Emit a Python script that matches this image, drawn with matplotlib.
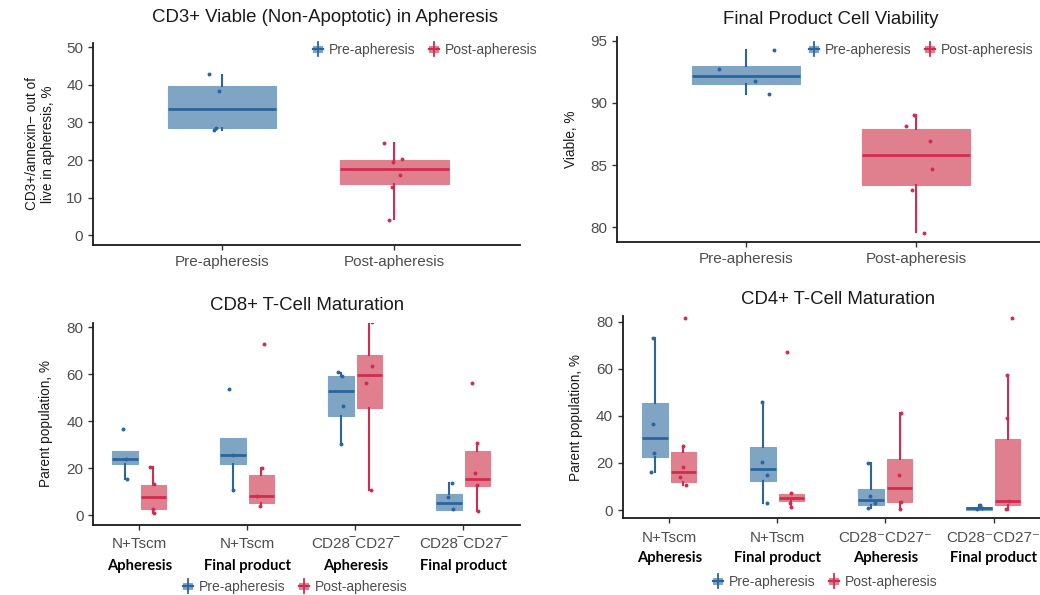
import matplotlib
matplotlib.use('Agg')
import matplotlib.pyplot as plt
from matplotlib.lines import Line2D
from matplotlib.patches import Patch, Rectangle
from matplotlib.legend_handler import HandlerBase

plt.rcParams['font.family'] = ['Liberation Sans', 'DejaVu Sans']

# ---- data ----
legend_labels = ['Pre-apheresis', 'Post-apheresis']

# CD3+ viable in apheresis
cd3_ticks = ['Pre-apheresis', 'Post-apheresis']
cd3_q1 = [28.6, 13.7]
cd3_med = [33.7, 17.7]
cd3_q3 = [39.7, 19.9]
cd3_lo = [28.0, 4.3]
cd3_hi = [42.6, 24.5]
cd3_pts = [[42.8, 38.3, 27.9, 28.6], [24.5, 19.4, 20.2, 16.0, 12.8, 4.0]]
cd3_jit = [[-0.076, -0.017, -0.047, -0.038], [-0.058, -0.006, 0.047, 0.035, -0.012, -0.029]]

# final product viability
via_ticks = ['Pre-apheresis', 'Post-apheresis']
via_q1 = [91.5, 83.4]
via_med = [92.2, 85.8]
via_q3 = [93.0, 87.9]
via_lo = [90.7, 79.6]
via_hi = [94.25, 89.0]
via_pts = [[92.7, 91.75, 90.7, 94.25], [89.0, 88.15, 86.9, 84.7, 83.0, 79.5]]
via_jit = [[-0.16, 0.053, 0.135, 0.165], [-0.012, -0.059, 0.082, 0.094, -0.024, 0.047]]

# CD8+ maturation
cd8_ticks = ['N+Tscm', 'N+Tscm', 'CD28\u203eCD27\u203e', 'CD28\u203eCD27\u203e']
mat_sub = ['Apheresis', 'Final product', 'Apheresis', 'Final product']
cd8_pre_q1 = [21.8, 22.0, 42.4, 2.3]
cd8_pre_med = [24.0, 25.5, 53.0, 5.4]
cd8_pre_q3 = [27.5, 32.9, 59.3, 9.1]
cd8_pre_lo = [15.6, 10.8, 30.2, 2.3]
cd8_pre_hi = [27.5, 32.9, 60.4, 13.9]
cd8_post_q1 = [2.8, 5.4, 45.5, 12.3]
cd8_post_med = [7.9, 8.1, 59.9, 15.3]
cd8_post_q3 = [12.9, 17.0, 68.2, 27.4]
cd8_post_lo = [1.1, 4.0, 11.0, 2.0]
cd8_post_hi = [20.4, 20.0, 82.3, 31.0]
cd8_pre_pts = [[36.9, 24.0, 15.6], [53.6, 25.5, 10.8], [61.0, 59.4, 46.5, 30.2], [13.6, 7.8, 2.6]]
cd8_pre_jit = [[-0.02, 0.01, 0.02], [-0.04, 0.0, 0.0], [-0.025, 0.01, 0.02, 0.0], [0.028, -0.012, 0.037]]
cd8_post_pts = [[20.4, 13.2, 2.8, 1.1], [73.0, 20.0, 8.1, 4.0], [82.3, 63.5, 56.5, 11.0], [56.2, 30.6, 17.9, 12.9, 2.0]]
cd8_post_jit = [[-0.03, 0.01, 0.0, 0.01], [0.025, 0.01, -0.037, -0.015], [0.025, 0.028, -0.028, 0.018], [-0.05, -0.006, -0.025, 0.0, 0.006]]

# CD4+ maturation
cd4_ticks = ['N+Tscm', 'N+Tscm', 'CD28\u207bCD27\u207b', 'CD28\u207bCD27\u207b']
cd4_pre_q1 = [22.5, 12.2, 2.3, 0.0]
cd4_pre_med = [30.6, 17.6, 4.2, 0.7]
cd4_pre_q3 = [45.6, 26.8, 9.1, 1.4]
cd4_pre_lo = [16.0, 3.1, 1.0, 0.0]
cd4_pre_hi = [73.1, 45.9, 20.1, 2.0]
cd4_post_q1 = [12.0, 4.0, 3.3, 2.1]
cd4_post_med = [16.3, 5.1, 9.5, 4.0]
cd4_post_q3 = [24.8, 6.7, 21.5, 30.0]
cd4_post_lo = [10.6, 1.4, 0.3, 0.0]
cd4_post_hi = [27.3, 7.4, 41.1, 57.4]
cd4_pre_pts = [[73.1, 36.5, 24.4, 16.0], [45.9, 20.4, 15.0, 3.1], [20.1, 5.9, 3.1, 1.0], [2.0, 0.3, 0.8]]
cd4_pre_jit = [[-0.022, -0.022, -0.012, -0.037], [-0.006, -0.006, 0.034, 0.034], [-0.025, -0.006, 0.037, -0.031], [0.009, -0.022, 0.025]]
cd4_post_pts = [[81.4, 27.3, 18.1, 14.2, 10.5], [67.1, 7.1, 3.1, 1.4], [41.1, 15.0, 3.4, 0.6], [81.4, 57.4, 39.2, 3.7, 0.3]]
cd4_post_jit = [[0.012, -0.006, -0.003, -0.031, 0.022], [-0.04, 0.0, -0.012, 0.0], [0.015, -0.006, 0.012, 0.006], [0.043, -0.009, -0.003, 0.009, -0.015]]

PRE_FILL, PRE_LINE = '#7fa4c4', '#2b659b'
POST_FILL, POST_LINE = '#e0808f', '#d02c50'
GREY = '#4d4d4d'
TICK_SIZE = 11
TITLE_SIZE = 13.4

W, H = 1040, 595
fig = plt.figure(figsize=(W / 100, H / 100), dpi=100)


def rect(l, t, r, b):
    return [l / W, 1 - b / H, (r - l) / W, (b - t) / H]


def style(ax):
    for s in ['top', 'right']:
        ax.spines[s].set_visible(False)
    for s in ['left', 'bottom']:
        ax.spines[s].set_linewidth(1.3)
        ax.spines[s].set_color('#1a1a1a')
    ax.tick_params(length=3.5, width=1, color='#333333', labelcolor=GREY, labelsize=TICK_SIZE, pad=3.5)


def boxes(ax, pos, q1, med, q3, lo, hi, fill, line, width):
    stats = [dict(q1=a, med=m, q3=b, whislo=w1, whishi=w2) for a, m, b, w1, w2 in zip(q1, med, q3, lo, hi)]
    ax.bxp(stats, positions=pos, widths=width, patch_artist=True, showcaps=False, showfliers=False,
           boxprops=dict(facecolor=fill, edgecolor=fill, linewidth=0.8),
           whiskerprops=dict(color=line, linewidth=1.5),
           medianprops=dict(color=line, linewidth=2))


def dots(ax, pos, pts, jit, line):
    for p, ys, js in zip(pos, pts, jit):
        ax.scatter([p + j for j in js], ys, s=8, color=line, zorder=5, linewidths=0)


class BoxKey(HandlerBase):
    # ggplot-like boxplot key: filled box, median line, whisker through it
    def create_artists(self, legend, orig_handle, xdescent, ydescent, width, height, fontsize, trans):
        fill = orig_handle.get_facecolor()
        line = orig_handle.get_edgecolor()
        x0, y0 = -xdescent, -ydescent
        cx, cy = x0 + width / 2, y0 + height / 2
        box = Rectangle((x0, y0 + height * 0.12), width, height * 0.76, facecolor=fill, edgecolor='none', transform=trans)
        whisker = Line2D([cx, cx], [y0 - height * 0.25, y0 + height * 1.25], color=line, lw=1.3, transform=trans)
        median = Line2D([x0, x0 + width], [cy, cy], color=line, lw=1.6, transform=trans)
        return [box, whisker, median]


def add_legend(ax, x_px, y_px):
    handles = [Patch(facecolor=PRE_FILL, edgecolor=PRE_LINE), Patch(facecolor=POST_FILL, edgecolor=POST_LINE)]
    ax.legend(handles, legend_labels, handler_map={Patch: BoxKey()}, ncol=2,
              frameon=False, loc='center left', bbox_to_anchor=(x_px / W, 1 - y_px / H),
              bbox_transform=fig.transFigure, borderpad=0, borderaxespad=0, handlelength=0.72,
              handleheight=0.65, handletextpad=0.45, columnspacing=0.95, fontsize=10, labelcolor=GREY)


# ---- panel 1: CD3+ ----
ax1 = fig.add_axes(rect(93, 42.7, 520, 245))
style(ax1)
boxes(ax1, [1], cd3_q1[:1], cd3_med[:1], cd3_q3[:1], cd3_lo[:1], cd3_hi[:1], PRE_FILL, PRE_LINE, 0.63)
boxes(ax1, [2], cd3_q1[1:], cd3_med[1:], cd3_q3[1:], cd3_lo[1:], cd3_hi[1:], POST_FILL, POST_LINE, 0.63)
dots(ax1, [1], cd3_pts[:1], cd3_jit[:1], PRE_LINE)
dots(ax1, [2], cd3_pts[1:], cd3_jit[1:], POST_LINE)
ax1.set_xlim(0.25, 2.73)
ax1.set_ylim(-2.6, 51.2)
ax1.set_yticks([0, 10, 20, 30, 40, 50])
ax1.set_xticks([1, 2])
ax1.set_xticklabels(cd3_ticks)
ax1.set_ylabel('CD3+/annexin\u2212 out of\nlive in apheresis, %', fontsize=9.8, color='#1a1a1a', linespacing=1.15)
ax1.yaxis.set_label_coords((55 - 93) / 427, 0.5)
add_legend(ax1, 313, 50)
fig.text(325 / W, 1 - 18 / H, 'CD3+ Viable (Non-Apoptotic) in Apheresis', ha='center', va='center',
         fontsize=TITLE_SIZE, color='#1a1a1a')

# ---- panel 2: viability ----
ax2 = fig.add_axes(rect(617, 36.7, 1040, 242.3))
style(ax2)
boxes(ax2, [1], via_q1[:1], via_med[:1], via_q3[:1], via_lo[:1], via_hi[:1], PRE_FILL, PRE_LINE, 0.64)
boxes(ax2, [2], via_q1[1:], via_med[1:], via_q3[1:], via_lo[1:], via_hi[1:], POST_FILL, POST_LINE, 0.64)
dots(ax2, [1], via_pts[:1], via_jit[:1], PRE_LINE)
dots(ax2, [2], via_pts[1:], via_jit[1:], POST_LINE)
ax2.set_xlim(0.241, 2.73)
ax2.set_ylim(78.79, 95.32)
ax2.set_yticks([80, 85, 90, 95])
ax2.set_xticks([1, 2])
ax2.set_xticklabels(via_ticks)
ax2.set_ylabel('Viable, %', fontsize=9.8, color='#1a1a1a')
ax2.yaxis.set_label_coords((578 - 617) / 423, 0.5)
add_legend(ax2, 809, 50)
fig.text(831 / W, 1 - 20 / H, 'Final Product Cell Viability', ha='center', va='center',
         fontsize=TITLE_SIZE, color='#1a1a1a')


def maturation(ax, ticks, pre, post, pre_pts, pre_jit, post_pts, post_jit, sub_off):
    style(ax)
    pos = [1, 2, 3, 4]
    pre_pos = [p - 0.133 for p in pos]
    post_pos = [p + 0.13 for p in pos]
    boxes(ax, pre_pos, *pre, PRE_FILL, PRE_LINE, 0.235)
    boxes(ax, post_pos, *post, POST_FILL, POST_LINE, 0.235)
    dots(ax, pre_pos, pre_pts, pre_jit, PRE_LINE)
    dots(ax, post_pos, post_pts, post_jit, POST_LINE)
    ax.set_yticks([0, 20, 40, 60, 80])
    ax.set_xticks(pos)
    ax.set_xticklabels(ticks)
    ax.tick_params(axis='x', pad=5.5)
    for p, s in zip(pos, mat_sub):
        ax.annotate(s, xy=(p, 0), xycoords=('data', 'axes fraction'), xytext=(0, -sub_off),
                    textcoords='offset points', ha='center', va='center', fontsize=10.6,
                    fontweight='bold', family=['Lato', 'DejaVu Sans'], color='black')
    ax.set_ylabel('Parent population, %', fontsize=9.8, color='#1a1a1a')


# ---- panel 3: CD8+ ----
ax3 = fig.add_axes(rect(93.3, 322.7, 520, 525))
maturation(ax3, cd8_ticks,
           (cd8_pre_q1, cd8_pre_med, cd8_pre_q3, cd8_pre_lo, cd8_pre_hi),
           (cd8_post_q1, cd8_post_med, cd8_post_q3, cd8_post_lo, cd8_post_hi),
           cd8_pre_pts, cd8_pre_jit, cd8_post_pts, cd8_post_jit, 41 * 0.72)
ax3.set_xlim(0.574, 4.525)
ax3.set_ylim(-4.1, 82)
ax3.yaxis.set_label_coords((53 - 93.3) / 426.7, 0.5)
add_legend(ax3, 183, 587)
fig.text(307 / W, 1 - 306 / H, 'CD8+ T-Cell Maturation', ha='center', va='center',
         fontsize=TITLE_SIZE, color='#1a1a1a')

# ---- panel 4: CD4+ ----
ax4 = fig.add_axes(rect(622.7, 316, 1040, 518.3))
maturation(ax4, cd4_ticks,
           (cd4_pre_q1, cd4_pre_med, cd4_pre_q3, cd4_pre_lo, cd4_pre_hi),
           (cd4_post_q1, cd4_post_med, cd4_post_q3, cd4_post_lo, cd4_post_hi),
           cd4_pre_pts, cd4_pre_jit, cd4_post_pts, cd4_post_jit, 40 * 0.72)
ax4.set_xlim(0.568, 4.43)
ax4.set_ylim(-3.5, 82.4)
ax4.yaxis.set_label_coords((583 - 622.7) / 417.3, 0.5)
add_legend(ax4, 713, 582)
fig.text(838 / W, 1 - 300 / H, 'CD4+ T-Cell Maturation', ha='center', va='center',
         fontsize=TITLE_SIZE, color='#1a1a1a')

fig.savefig('out.png', dpi=100)
